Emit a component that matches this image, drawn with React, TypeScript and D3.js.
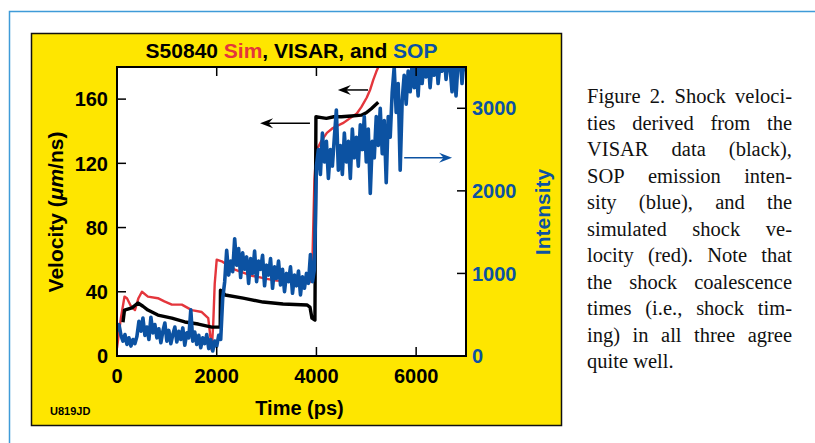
import { useEffect, useRef } from 'react';
import * as d3 from 'd3';

// Simulated shock velocity (red): [time ps, velocity um/ns]
const simData: [number, number][] = [
  [0, 5], [80, 24], [150, 37], [200, 36], [280, 31], [360, 28.6], [430, 36], [500, 40],
  [620, 37], [820, 36], [950, 34], [1100, 32], [1300, 32], [1500, 28.6], [1700, 27.4],
  [1830, 23.6], [1880, 10], [1900, 3.7], [1930, 20], [1960, 45], [2000, 60], [2100, 59],
  [2200, 57], [2350, 54], [2530, 52], [2700, 50], [2870, 49], [3000, 48], [3200, 47],
  [3500, 46.5], [3870, 46], [3920, 60], [3960, 110], [4000, 128], [4100, 134], [4210, 139],
  [4330, 142], [4530, 145], [4670, 148], [4810, 151], [4900, 155], [5010, 161], [5080, 166],
  [5140, 172], [5200, 177], [5270, 182],
];

// VISAR shock velocity (black)
const visarData: [number, number][] = [
  [120, 21], [150, 28.6], [300, 30], [420, 33], [520, 31], [620, 28.6], [820, 25.5],
  [1100, 23.6], [1360, 21.2], [1630, 19.9], [1900, 18], [2030, 18], [2070, 18], [2075, 41],
  [2170, 38], [2530, 36], [2930, 33.6], [3330, 32.4], [3810, 31.8], [3870, 30.5], [3910, 23.6],
  [3970, 22.4], [3990, 149], [4100, 148.5], [4200, 148], [4350, 149], [4500, 149],
  [4700, 149.5], [4900, 150], [5000, 151.5], [5100, 154], [5240, 158],
];

// SOP emission intensity (blue): [time ps, intensity]
const sopData: [number, number][] = [
  [0, 300], [40, 380], [80, 250], [120, 180], [160, 260], [200, 140], [240, 220], [280, 120],
  [320, 200], [360, 150], [400, 240], [440, 420], [480, 300], [520, 460], [560, 250], [600, 350],
  [640, 200], [680, 470], [720, 280], [760, 380], [800, 220], [840, 330], [880, 160], [920, 300],
  [960, 400], [1000, 180], [1040, 310], [1080, 150], [1120, 260], [1160, 350], [1200, 170],
  [1240, 300], [1280, 200], [1320, 340], [1360, 130], [1400, 280], [1440, 220], [1480, 560],
  [1520, 180], [1560, 290], [1600, 140], [1640, 250], [1680, 100], [1720, 220], [1760, 150],
  [1800, 260], [1840, 90], [1880, 200], [1920, 60], [1960, 180], [2000, 120], [2040, 250],
  [2080, 200], [2120, 700], [2160, 900], [2200, 1280], [2240, 980], [2280, 1150], [2320, 1020],
  [2360, 1420], [2400, 1100], [2440, 1300], [2480, 950], [2520, 1250], [2560, 1050], [2600, 1200],
  [2640, 880], [2680, 1180], [2720, 1000], [2760, 1270], [2800, 900], [2840, 1150], [2880, 1050],
  [2920, 1220], [2960, 850], [3000, 1100], [3040, 980], [3080, 1180], [3120, 820], [3160, 1080],
  [3200, 940], [3240, 1150], [3280, 860], [3320, 1050], [3360, 780], [3400, 1000], [3440, 900],
  [3480, 1080], [3520, 760], [3560, 980], [3600, 850], [3640, 1030], [3680, 740], [3720, 960],
  [3760, 820], [3800, 1000], [3840, 880], [3880, 1230], [3920, 900], [3960, 1050], [4000, 2300],
  [4040, 2500], [4080, 2200], [4120, 2700], [4160, 2350], [4200, 2600], [4240, 2150], [4280, 2500],
  [4320, 2300], [4360, 2650], [4400, 2980], [4440, 2250], [4480, 2550], [4520, 2200], [4560, 2700],
  [4600, 2350], [4640, 2600], [4680, 2150], [4720, 2750], [4760, 2400], [4800, 2650], [4840, 2300],
  [4880, 2800], [4920, 2500], [4960, 2900], [5000, 2350], [5040, 2750], [5080, 1970], [5120, 2600],
  [5160, 2400], [5200, 2900], [5240, 2550], [5280, 3000], [5320, 2450], [5360, 2850], [5400, 2100],
  [5440, 2900], [5480, 2650], [5520, 3200], [5560, 3500], [5600, 2950], [5640, 3300], [5680, 2250],
  [5720, 3100], [5760, 3400], [5800, 3050], [5840, 3450], [5880, 3200], [5920, 3550], [5960, 3250],
  [6000, 3500], [6040, 3150], [6080, 3600], [6120, 3300], [6160, 3550], [6200, 3380], [6240, 3600],
  [6280, 3250], [6320, 3550], [6360, 3400], [6400, 3650], [6440, 3300], [6480, 3550], [6520, 3450],
  [6560, 3700], [6600, 3350], [6640, 3600], [6680, 3500], [6720, 3200], [6760, 3600], [6800, 3150],
  [6840, 3550], [6880, 3650], [6920, 3300], [6960, 3600], [7000, 3450],
];

const xTicks = [0, 2000, 4000, 6000];
const velocityTicks = [0, 40, 80, 120, 160];
const intensityTicks = [0, 1000, 2000, 3000];

// annotation arrows: [t start, t end, value]
const velocityArrows: [number, number, number][] = [
  [3870, 2870, 145],
  [5035, 4430, 165.7],
];
const intensityArrows: [number, number, number][] = [[5760, 6720, 2400]];

const captionLines = [
  'Figure 2. Shock veloci-',
  'ties derived from the',
  'VISAR data (black),',
  'SOP emission inten-',
  'sity (blue), and the',
  'simulated shock ve-',
  'locity (red). Note that',
  'the shock coalescence',
  'times (i.e., shock tim-',
  'ing) in all three agree',
  'quite well.',
];

const RED = '#e4363c';
const BLUE = '#0c52a2';
const YELLOW = '#fee600';
const SANS = '"Liberation Sans", Arial, Helvetica, sans-serif';
const SERIF = '"Liberation Serif", "Times New Roman", serif';

export default function App() {
  const svgRef = useRef<SVGSVGElement>(null);
  const width = 815;
  const height = 443;

  useEffect(() => {
    if (!svgRef.current) return;
    const svg = d3.select(svgRef.current);
    svg.selectAll('*').remove();

    const plot = { left: 117, right: 466, top: 67, bottom: 356 };

    const x = d3.scaleLinear().domain([0, 7000]).range([plot.left, plot.right]);
    const yV = d3.scaleLinear().domain([0, 180]).range([plot.bottom, plot.top]);
    const yI = d3.scaleLinear().domain([0, 3500]).range([plot.bottom, plot.top]);

    // outer blue frame
    svg.append('path')
      .attr('d', `M9.5,${height} V11.5 H${width}`)
      .attr('fill', 'none')
      .attr('stroke', '#3f9bd8')
      .attr('stroke-width', 1.5);

    // yellow panel
    svg.append('rect')
      .attr('x', 31.5).attr('y', 33.5)
      .attr('width', 530).attr('height', 392)
      .attr('fill', YELLOW)
      .attr('stroke', '#111')
      .attr('stroke-width', 1.5);

    // title
    const title = svg.append('text')
      .attr('x', (plot.left + plot.right) / 2)
      .attr('y', 58)
      .attr('text-anchor', 'middle')
      .style('font-family', SANS)
      .style('font-weight', 'bold')
      .style('font-size', '21px');
    title.append('tspan').text('S50840 ');
    title.append('tspan').attr('fill', RED).text('Sim');
    title.append('tspan').text(', VISAR, and ');
    title.append('tspan').attr('fill', BLUE).text('SOP');

    // plot background
    svg.append('rect')
      .attr('x', plot.left).attr('y', plot.top)
      .attr('width', plot.right - plot.left).attr('height', plot.bottom - plot.top)
      .attr('fill', 'white');

    svg.append('clipPath').attr('id', 'plotClip')
      .append('rect')
      .attr('x', plot.left).attr('y', plot.top)
      .attr('width', plot.right - plot.left).attr('height', plot.bottom - plot.top);

    const lines = svg.append('g').attr('clip-path', 'url(#plotClip)');

    const lineV = d3.line<[number, number]>().x(d => x(d[0])).y(d => yV(d[1]));
    const lineI = d3.line<[number, number]>().x(d => x(d[0])).y(d => yI(d[1]));

    lines.append('path')
      .datum(simData)
      .attr('d', lineV)
      .attr('fill', 'none')
      .attr('stroke', RED)
      .attr('stroke-width', 2.4)
      .attr('stroke-linejoin', 'round');

    lines.append('path')
      .datum(visarData)
      .attr('d', lineV)
      .attr('fill', 'none')
      .attr('stroke', '#000')
      .attr('stroke-width', 3.4)
      .attr('stroke-linejoin', 'round');

    lines.append('path')
      .datum(sopData)
      .attr('d', lineI)
      .attr('fill', 'none')
      .attr('stroke', BLUE)
      .attr('stroke-width', 3.6)
      .attr('stroke-linejoin', 'round');

    // arrows
    const drawArrow = (x1: number, x2: number, yy: number, color: string) => {
      const dir = Math.sign(x2 - x1);
      const headLen = 13;
      lines.append('line')
        .attr('x1', x1).attr('x2', x2 - dir * headLen * 0.6)
        .attr('y1', yy).attr('y2', yy)
        .attr('stroke', color).attr('stroke-width', 1.5);
      lines.append('path')
        .attr('d', `M${x2},${yy} L${x2 - dir * headLen},${yy - 5} L${x2 - dir * headLen * 0.65},${yy} L${x2 - dir * headLen},${yy + 5} Z`)
        .attr('fill', color);
    };
    velocityArrows.forEach(([a, b, v]) => drawArrow(x(a), x(b), yV(v), '#000'));
    intensityArrows.forEach(([a, b, v]) => drawArrow(x(a), x(b), yI(v), BLUE));

    // ticks (inward)
    const tickLen = 9;
    const ticks = svg.append('g').attr('stroke', '#000').attr('stroke-width', 1.5);
    xTicks.filter(t => t > 0).forEach(t => {
      ticks.append('line').attr('x1', x(t)).attr('x2', x(t))
        .attr('y1', plot.bottom).attr('y2', plot.bottom - tickLen);
      ticks.append('line').attr('x1', x(t)).attr('x2', x(t))
        .attr('y1', plot.top).attr('y2', plot.top + tickLen);
    });
    velocityTicks.filter(t => t > 0).forEach(t => {
      ticks.append('line').attr('x1', plot.left).attr('x2', plot.left + tickLen)
        .attr('y1', yV(t)).attr('y2', yV(t));
    });
    intensityTicks.filter(t => t > 0).forEach(t => {
      ticks.append('line').attr('x1', plot.right).attr('x2', plot.right - tickLen)
        .attr('y1', yI(t)).attr('y2', yI(t));
    });

    // plot frame
    svg.append('rect')
      .attr('x', plot.left).attr('y', plot.top)
      .attr('width', plot.right - plot.left).attr('height', plot.bottom - plot.top)
      .attr('fill', 'none')
      .attr('stroke', '#000')
      .attr('stroke-width', 2);

    const labelStyle = (sel: d3.Selection<SVGTextElement, unknown, null, undefined>) =>
      sel.style('font-family', SANS).style('font-weight', 'bold').style('font-size', '20px');

    // tick labels
    velocityTicks.forEach(t => {
      labelStyle(svg.append('text'))
        .attr('x', 108).attr('y', yV(t))
        .attr('dy', '0.36em')
        .attr('text-anchor', 'end')
        .text(t);
    });
    intensityTicks.forEach(t => {
      labelStyle(svg.append('text'))
        .attr('x', 472).attr('y', yI(t))
        .attr('dy', '0.36em')
        .attr('fill', BLUE)
        .text(t);
    });
    xTicks.forEach(t => {
      labelStyle(svg.append('text'))
        .attr('x', x(t)).attr('y', 383)
        .attr('text-anchor', 'middle')
        .text(t);
    });

    // axis titles
    labelStyle(svg.append('text'))
      .attr('x', (plot.left + plot.right) / 2 + 8).attr('y', 415)
      .attr('text-anchor', 'middle')
      .text('Time (ps)');

    const vLabel = labelStyle(svg.append('text'))
      .attr('transform', `translate(63,212) rotate(-90)`)
      .attr('text-anchor', 'middle')
      .style('font-size', '21px');
    vLabel.append('tspan').text('Velocity (');
    vLabel.append('tspan').style('font-style', 'italic').text('μm');
    vLabel.append('tspan').text('/ns)');

    labelStyle(svg.append('text'))
      .attr('transform', `translate(550,212) rotate(-90)`)
      .attr('text-anchor', 'middle')
      .attr('fill', BLUE)
      .style('font-size', '21px')
      .text('Intensity');

    svg.append('text')
      .attr('x', 50).attr('y', 415)
      .style('font-family', SANS)
      .style('font-weight', 'bold')
      .style('font-size', '11px')
      .text('U819JD');

    // justified caption
    const capX = 587;
    const capW = 205;
    const capSize = 20.5;
    const cap = svg.append('g')
      .style('font-family', SERIF)
      .style('font-size', `${capSize}px`)
      .attr('fill', '#111');
    captionLines.forEach((line, i) => {
      const yy = 103 + i * 26.5;
      const words = line.split(' ');
      const nodes = words.map(w => cap.append('text').attr('y', yy).text(w));
      const widths = nodes.map(n => (n.node() as SVGTextElement).getComputedTextLength());
      const total = d3.sum(widths);
      const last = i === captionLines.length - 1;
      const gap = last || words.length < 2 ? capSize * 0.25 : (capW - total) / (words.length - 1);
      let cx = capX;
      nodes.forEach((n, j) => {
        n.attr('x', cx);
        cx += widths[j] + gap;
      });
    });
  }, []);

  return (
    <svg
      ref={svgRef}
      width={width}
      height={height}
      viewBox={`0 0 ${width} ${height}`}
      style={{ position: 'absolute', left: 0, top: 0, background: 'white' }}
    />
  );
}
